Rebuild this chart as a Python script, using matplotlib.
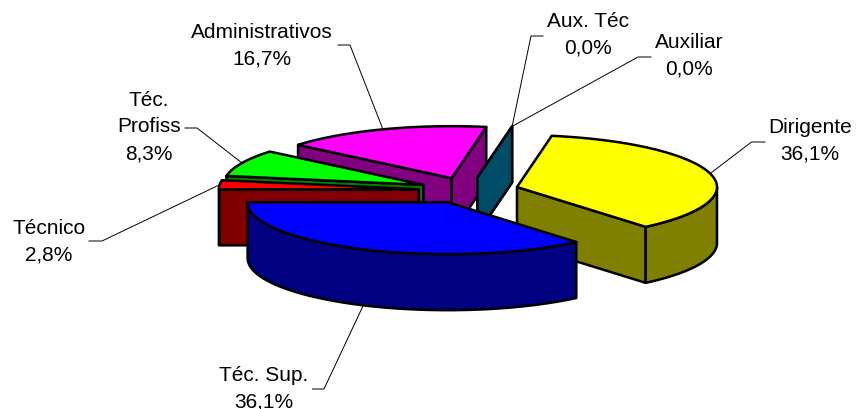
import numpy
from matplotlib import pyplot
from matplotlib.patches import Polygon

# data
categories = ["Dirigente", "Téc. Sup.", "Técnico", "Téc.\nProfiss",
              "Administrativos", "Aux. Téc", "Auxiliar"]
percents = [36.1, 36.1, 2.8, 8.3, 16.7, 0.0, 0.0]

# styles
top_colors = ["#FFFF00", "#0000FF", "#FF0000", "#00FF00", "#FF00FF", "#006C8F", "#006C8F"]
side_colors = ["#808000", "#000080", "#800000", "#008000", "#800080", "#004C66", "#004C66"]
draw_order = [4, 5, 6, 3, 2, 0, 1]  # back to front

# pie geometry in pixels
center_x, center_y = 468.7, 190.4
radius_x, radius_y = 200.0, 52.0
depth = 56.0
explode = 50.0
first_angle = 10.0

# label centres and leader elbows
label_pos = [(810, 141), (264, 388.5), (49, 241.5), (149, 127), (261.5, 45.5), (588, 35), (689, 56)]
leader_mid = [[(751.5, 142), (765, 142)],
              [(324, 389), (312.5, 389)],
              [(102, 241), (89, 241)],
              [(197, 128), (185, 128)],
              [(350, 45), (338, 45)],
              [(531, 36), (543, 36)],
              [(638, 57), (651, 57)]]


def rim(angle, apex, drop=0.0):
    # angle is clockwise from the top of the pie, in degrees
    a = numpy.radians(angle)
    return apex[0] + radius_x * numpy.sin(a), apex[1] - radius_y * numpy.cos(a) + drop


def arc(start, end, apex, drop=0.0):
    angles = numpy.linspace(start, end, 80)
    return numpy.column_stack(rim(angles, apex, drop))


def add_poly(ax, points, color):
    ax.add_patch(Polygon(points, closed=True, facecolor=color, edgecolor="k",
                         linewidth=1.8, joinstyle="round"))


fig = pyplot.figure(figsize=(8.56, 4.09), dpi=100)
ax = fig.add_axes([0, 0, 1, 1])
ax.set_xlim(0, 856)
ax.set_ylim(409, 0)
ax.axis("off")

# slice angles
sizes = numpy.array(percents) * 3.6
starts = first_angle + numpy.concatenate(([0], numpy.cumsum(sizes)[:-1]))
ends = starts + sizes
mids = (starts + ends) / 2
apexes = []
for m in mids:
    a = numpy.radians(m)
    apexes.append((center_x + explode * numpy.sin(a), center_y - explode * (radius_y / radius_x) * numpy.cos(a)))

# leader lines and labels
for i in range(len(categories)):
    # front slices take the leader from the lower edge of the wall
    drop = depth if numpy.cos(numpy.radians(mids[i])) < 0 else 0.0
    anchor = rim(mids[i], apexes[i], drop)
    xs = [anchor[0]] + [p[0] for p in leader_mid[i]]
    ys = [anchor[1]] + [p[1] for p in leader_mid[i]]
    ax.plot(xs, ys, color="k", linewidth=0.7, zorder=1)
    value = "{:.1f}%".format(percents[i]).replace(".", ",")
    ax.text(label_pos[i][0], label_pos[i][1], categories[i] + "\n" + value,
            family="Liberation Sans", fontsize=15, ha="center", va="center",
            linespacing=1.5, color="k", zorder=5)

# slices, back to front
for i in draw_order:
    s, e, apex = starts[i], ends[i], apexes[i]
    side = side_colors[i]
    # flat cut faces that look at the viewer
    if numpy.sin(numpy.radians(s)) < 0:
        p = rim(s, apex)
        add_poly(ax, [apex, p, (p[0], p[1] + depth), (apex[0], apex[1] + depth)], side)
    if numpy.sin(numpy.radians(e)) > 0:
        p = rim(e, apex)
        add_poly(ax, [apex, p, (p[0], p[1] + depth), (apex[0], apex[1] + depth)], side)
    # outer wall, only the front half of the ellipse shows
    r0, r1 = max(s, 90), min(e, 270)
    if r1 > r0:
        upper = arc(r0, r1, apex)
        lower = arc(r1, r0, apex, depth)
        add_poly(ax, numpy.vstack((upper, lower)), side)
    # top face
    if e > s:
        add_poly(ax, numpy.vstack(([apex], arc(s, e, apex))), top_colors[i])

pyplot.savefig("out.png", dpi=100)
